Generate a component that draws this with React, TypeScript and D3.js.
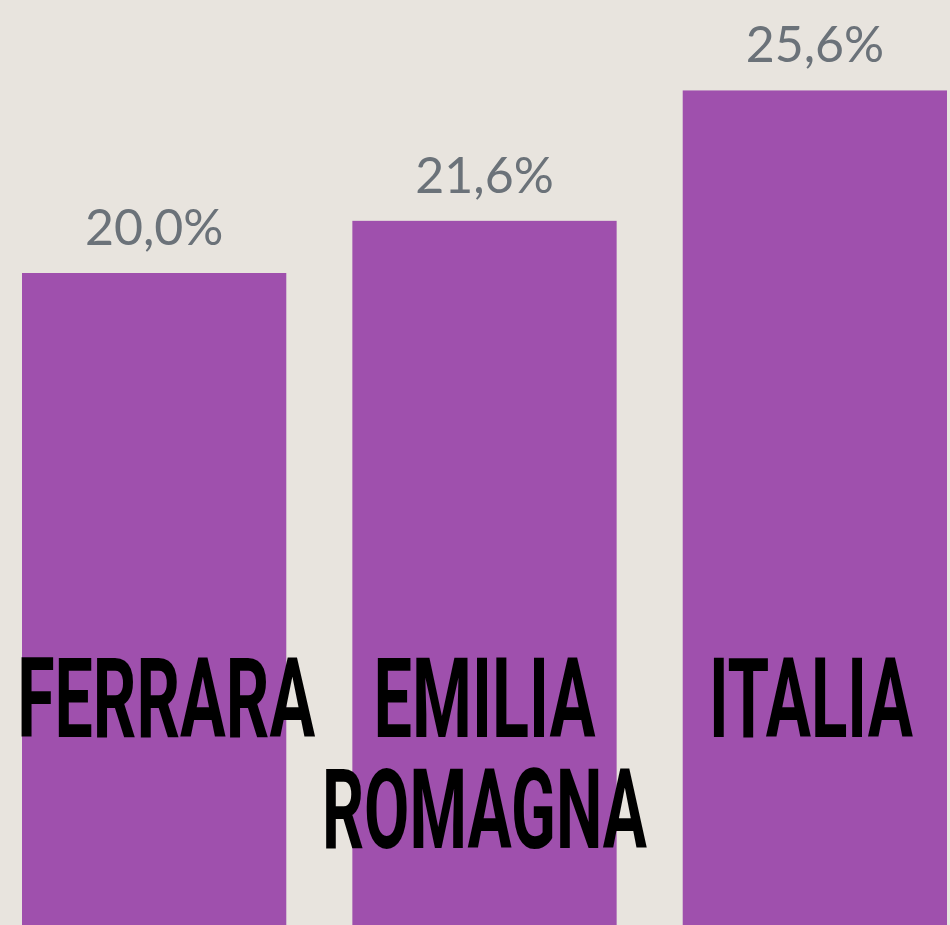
import React, { useLayoutEffect, useRef, useState } from "react";
import * as d3 from "d3";

const categories = ["FERRARA", "EMILIA ROMAGNA", "ITALIA"];
const labelLines = [["FERRARA"], ["EMILIA", "ROMAGNA"], ["ITALIA"]];
const values = [20.0, 21.6, 25.6];
const valueLabels = ["20,0%", "21,6%", "25,6%"];

const W = 950;
const H = 925;
const BG = "#e8e4de";
const BAR = "#9f50ad";
const GREY = "#6b7279";

const labelShift = [12, 0, -4];
const targetWidths: Record<string, number> = {
  FERRARA: 298,
  EMILIA: 222,
  ROMAGNA: 325,
  ITALIA: 204,
};

export default function App() {
  const x = d3.scaleBand<string>().domain(categories).range([22, 947]).paddingInner(0.2).paddingOuter(0);
  const y = d3.scaleLinear().domain([0, H / 32.6]).range([H, 0]);
  const refs = useRef<Record<string, SVGTextElement | null>>({});
  const [scales, setScales] = useState<Record<string, number>>({});

  useLayoutEffect(() => {
    const next: Record<string, number> = {};
    Object.keys(targetWidths).forEach((k) => {
      const el = refs.current[k];
      if (el) {
        const w = el.getComputedTextLength();
        next[k] = w > 0 ? targetWidths[k] / w : 1;
      }
    });
    setScales(next);
  }, []);

  return (
    <svg
      width={W}
      height={H}
      style={{ position: "absolute", left: 0, top: 0, display: "block" }}
      xmlns="http://www.w3.org/2000/svg"
    >
      <rect x={0} y={0} width={W} height={H} fill={BG} />
      {categories.map((c, i) => {
        const x0 = x(c)!;
        const bw = x.bandwidth();
        const top = y(values[i]);
        return (
          <g key={c}>
            <rect x={x0} y={top} width={bw} height={y(0) - top} fill={BAR} />
            <text
              x={x0 + bw / 2}
              y={top - 28}
              textAnchor="middle"
              fontFamily="Lato, 'Open Sans', sans-serif"
              fontSize={50}
              fill={GREY}
            >
              {valueLabels[i]}
            </text>
          </g>
        );
      })}
      {categories.map((c, i) => {
        const cx = x(c)! + x.bandwidth() / 2 + labelShift[i];
        return labelLines[i].map((line, j) => {
          const s = scales[line] ?? 1;
          return (
            <g key={c + j} transform={`translate(${cx},${737 + j * 111}) scale(${s},1)`}>
              <text
                ref={(el) => {
                  refs.current[line] = el;
                }}
                x={0}
                y={0}
                textAnchor="middle"
                fontFamily="Roboto, 'DejaVu Sans Condensed', sans-serif"
                fontWeight={700}
                fontSize={111}
                fill="#000"
              >
                {line}
              </text>
            </g>
          );
        });
      })}
    </svg>
  );
}
